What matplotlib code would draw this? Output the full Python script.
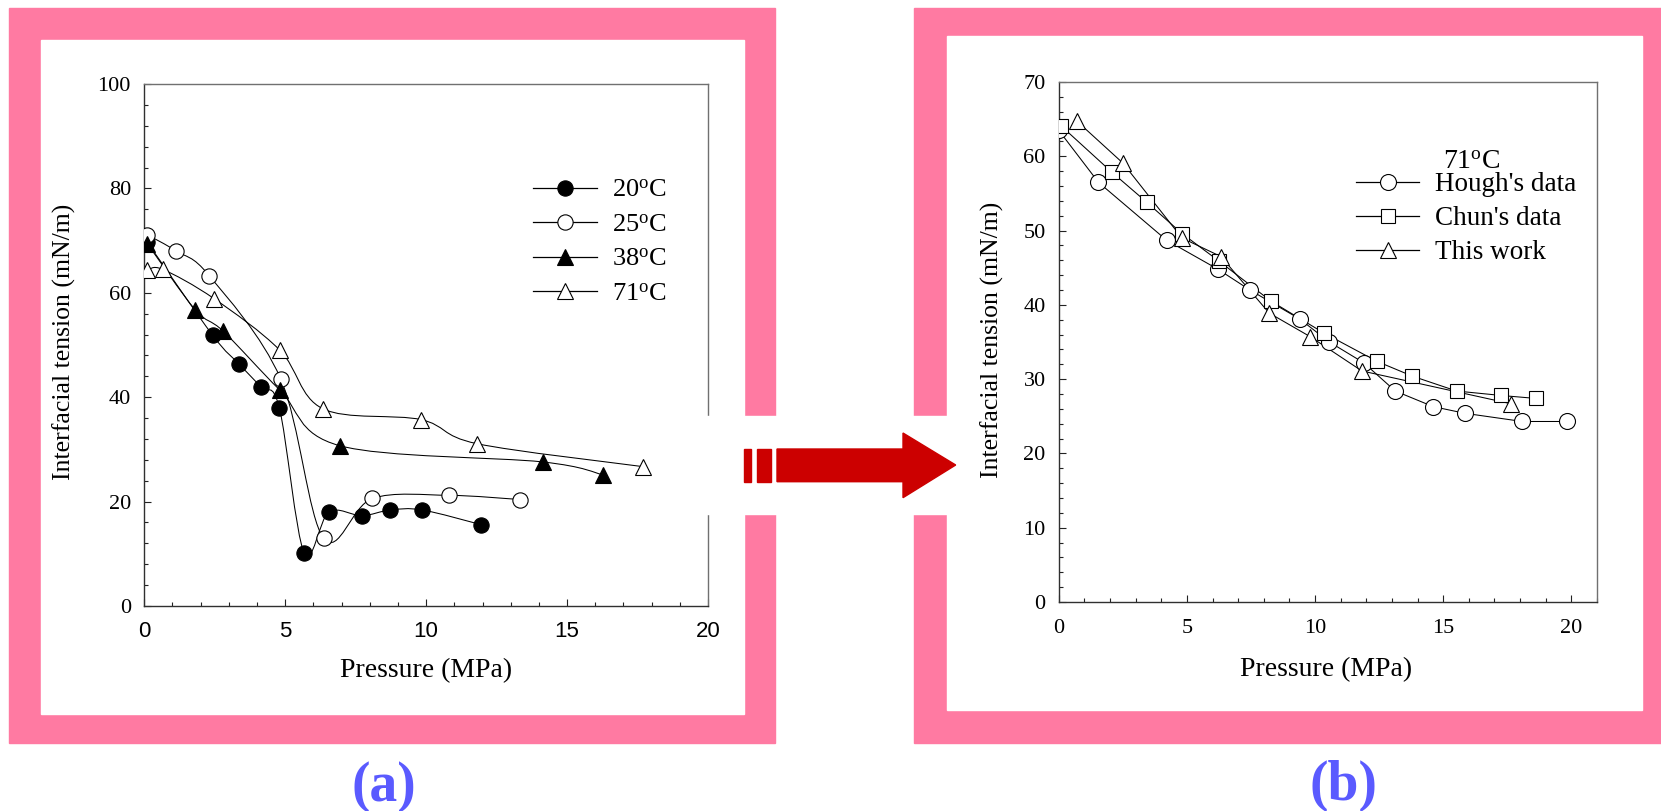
import matplotlib
matplotlib.use("Agg")
import matplotlib.pyplot as plt
import numpy as np
from matplotlib.patches import Rectangle, Polygon, PathPatch
from matplotlib.path import Path
from matplotlib.lines import Line2D
from matplotlib.ticker import MultipleLocator

W, H = 1661, 811

# panel (a): interfacial tension vs pressure at four temperatures
p20 = [0.09, 2.42, 3.37, 4.15, 4.79, 5.67, 6.55, 7.72, 8.73, 9.86, 11.94]
t20 = [69.8, 51.9, 46.3, 41.9, 38.0, 10.2, 18.0, 17.3, 18.4, 18.4, 15.6]
p25 = [0.11, 1.13, 2.30, 4.84, 6.36, 8.09, 10.81, 13.32]
t25 = [71.1, 68.0, 63.3, 43.5, 13.0, 20.6, 21.2, 20.4]
p38 = [0.11, 1.80, 2.81, 4.82, 6.94, 14.13, 16.29]
t38 = [69.4, 56.8, 52.6, 41.3, 30.7, 27.6, 25.1]
p71 = [0.11, 0.65, 2.47, 4.81, 6.33, 9.82, 11.80, 17.69]
t71 = [64.3, 64.5, 58.9, 49.0, 37.8, 35.7, 31.1, 26.7]
labels_a = [r'20$^{\mathrm{o}}$C', r'25$^{\mathrm{o}}$C', r'38$^{\mathrm{o}}$C', r'71$^{\mathrm{o}}$C']

# panel (b): 71 C comparison
p_hough = [0.0, 1.55, 4.21, 6.21, 7.46, 9.40, 10.56, 11.90, 13.13, 14.61, 15.85, 18.09, 19.83]
t_hough = [63.5, 56.5, 48.7, 44.8, 42.0, 38.1, 35.0, 32.2, 28.4, 26.3, 25.4, 24.3, 24.3]
p_chun = [0.09, 2.06, 3.44, 4.81, 6.25, 8.28, 10.35, 12.41, 13.80, 15.52, 17.27, 18.63]
t_chun = [64.1, 57.9, 53.8, 49.6, 45.9, 40.5, 36.2, 32.4, 30.4, 28.4, 27.8, 27.4]
p_this = [0.72, 2.50, 4.81, 6.33, 8.21, 9.82, 11.83, 17.63]
t_this = [64.7, 59.1, 49.0, 46.5, 38.9, 35.7, 31.1, 26.7]
labels_b = ["Hough's data", "Chun's data", "This work"]

PINK = '#FF7AA2'
RED = '#CC0000'
BLUE = '#5A5AFF'

plt.rcParams['font.family'] = 'Liberation Serif'
plt.rcParams['mathtext.fontset'] = 'custom'
plt.rcParams['mathtext.rm'] = 'Liberation Serif'
plt.rcParams['mathtext.it'] = 'Liberation Serif:italic'


def px_rect(x0, y0, x1, y1, **kw):
    # rectangle given in image pixels (origin top-left)
    return Rectangle((x0 / W, 1 - y1 / H), (x1 - x0) / W, (y1 - y0) / H,
                     transform=fig.transFigure, **kw)


def px_axes(x0, y0, x1, y1):
    return fig.add_axes([x0 / W, 1 - y1 / H, (x1 - x0) / W, (y1 - y0) / H])


def smooth_path(x, y):
    # Catmull-Rom curve through the points, as cubic bezier segments
    pts = np.column_stack([x, y])
    ext = np.vstack([pts[0], pts, pts[-1]])
    verts = [pts[0]]
    codes = [Path.MOVETO]
    for i in range(len(pts) - 1):
        a, b, c, d = ext[i], ext[i + 1], ext[i + 2], ext[i + 3]
        verts += [b + (c - a) / 6, c - (d - b) / 6, c]
        codes += [Path.CURVE4] * 3
    return Path(verts, codes)


def style_axes(ax, xpad, ypad):
    ax.tick_params(which='both', direction='in', top=False, right=False,
                   labelsize=16, width=0.8, color='#222222')
    ax.tick_params(which='major', length=5)
    ax.tick_params(which='minor', length=3)
    ax.tick_params(axis='x', pad=xpad)
    ax.tick_params(axis='y', pad=ypad)
    for s in ['left', 'bottom']:
        ax.spines[s].set_color('#303030')
        ax.spines[s].set_linewidth(1.0)
    for s in ['top', 'right']:
        ax.spines[s].set_color('#707070')
        ax.spines[s].set_linewidth(1.0)


fig = plt.figure(figsize=(W / 100, H / 100), dpi=100)

# pink frames
fig.add_artist(px_rect(9, 8, 775, 742.7, color=PINK, zorder=-3))
fig.add_artist(px_rect(41, 40, 744, 714, color='white', zorder=-2))
fig.add_artist(px_rect(914, 8, W + 2, 742.7, color=PINK, zorder=-3))
fig.add_artist(px_rect(946.7, 35.7, 1642, 710, color='white', zorder=-2))

# ---- panel (a)
ax1 = px_axes(144.3, 84, 708, 606)
ax1.set_xlim(0, 20)
ax1.set_ylim(0, 100)
ax1.xaxis.set_major_locator(MultipleLocator(5))
ax1.xaxis.set_minor_locator(MultipleLocator(1))
ax1.yaxis.set_major_locator(MultipleLocator(20))
ax1.yaxis.set_minor_locator(MultipleLocator(4))
style_axes(ax1, 10.8, 9.6)
ax1.tick_params(axis='x', labelfontfamily='Liberation Sans')

series_a = [
    (p20, t20, 'o', 'k', 11),
    (p25, t25, 'o', 'white', 11),
    (p38, t38, '^', 'k', 12),
    (p71, t71, '^', 'white', 12),
]
handles_a = []
for x, y, m, fc, ms in series_a:
    ax1.add_patch(PathPatch(smooth_path(x, y), fill=False, edgecolor='k', lw=0.75, zorder=2))
    ax1.plot(x, y, ls='none', marker=m, ms=ms, mfc=fc, mec='k', mew=0.8, zorder=3)
    handles_a.append(Line2D([], [], color='k', lw=0.9, marker=m, ms=ms, mfc=fc, mec='k', mew=0.8))

ax1.legend(handles_a, labels_a, loc='upper left', bbox_to_anchor=(0.6896, 0.819),
           frameon=False, fontsize=19, handlelength=2.42, handletextpad=0.56,
           labelspacing=0.42, borderpad=0, borderaxespad=0)

ax1.set_xlabel('Pressure (MPa)', fontsize=20)
ax1.xaxis.label.set_va('center')
ax1.xaxis.set_label_coords(0.5, -0.124)
ax1.set_ylabel('Interfacial tension (mN/m)', fontsize=18.5)
ax1.yaxis.label.set_va('center')
ax1.yaxis.set_label_coords(-0.1412, 0.5057)

# ---- panel (b)
ax2 = px_axes(1058.7, 82, 1597, 602)
ax2.set_xlim(0, 21)
ax2.set_ylim(0, 70)
ax2.xaxis.set_major_locator(MultipleLocator(5))
ax2.xaxis.set_minor_locator(MultipleLocator(1))
ax2.yaxis.set_major_locator(MultipleLocator(10))
ax2.yaxis.set_minor_locator(MultipleLocator(2))
style_axes(ax2, 12.2, 9.4)

series_b = [
    (p_hough, t_hough, 'o', 11.5),
    (p_chun, t_chun, 's', 9.5),
    (p_this, t_this, '^', 11),
]
handles_b = []
for x, y, m, ms in series_b:
    ax2.plot(x, y, color='k', lw=0.75, zorder=2)
    ax2.plot(x, y, ls='none', marker=m, ms=ms, mfc='white', mec='k', mew=0.8, zorder=3)
    handles_b.append(Line2D([], [], color='k', lw=0.9, marker=m, ms=ms, mfc='white', mec='k', mew=0.8))

ax2.legend(handles_b, labels_b, loc='upper left', bbox_to_anchor=(0.5523, 0.826),
           frameon=False, fontsize=19.5, handlelength=2.33, handletextpad=0.6,
           labelspacing=0.33, borderpad=0, borderaxespad=0)
ax2.text(0.714, 0.845, r'71$^{\mathrm{o}}$C', transform=ax2.transAxes,
         ha='left', va='center', fontsize=20)

ax2.set_xlabel('Pressure (MPa)', fontsize=20)
ax2.xaxis.label.set_va('center')
ax2.xaxis.set_label_coords(0.496, -0.1308)
ax2.set_ylabel('Interfacial tension (mN/m)', fontsize=18.5)
ax2.yaxis.label.set_va('center')
ax2.yaxis.set_label_coords(-0.1239, 0.504)

# white gap through the frames and the arrow from (a) to (b)
fig.add_artist(px_rect(700, 415.7, 950, 514, color='white', zorder=5))
fig.add_artist(px_rect(744, 449, 751, 481.7, color=RED, zorder=6))
fig.add_artist(px_rect(757, 449, 771, 481.7, color=RED, zorder=6))
arrow_px = [(777, 449), (903, 449), (903, 433), (955.7, 465), (903, 497.7),
            (903, 481.7), (777, 481.7)]
fig.add_artist(Polygon([(x / W, 1 - y / H) for x, y in arrow_px], closed=True,
                       color=RED, transform=fig.transFigure, zorder=6))

fig.text(384 / W, 1 - 787 / H, '(a)', ha='center', va='center', fontsize=40,
         fontweight='bold', color=BLUE)
fig.text(1343 / W, 1 - 786 / H, '(b)', ha='center', va='center', fontsize=40,
         fontweight='bold', color=BLUE)

fig.savefig('out.png', dpi=100)
